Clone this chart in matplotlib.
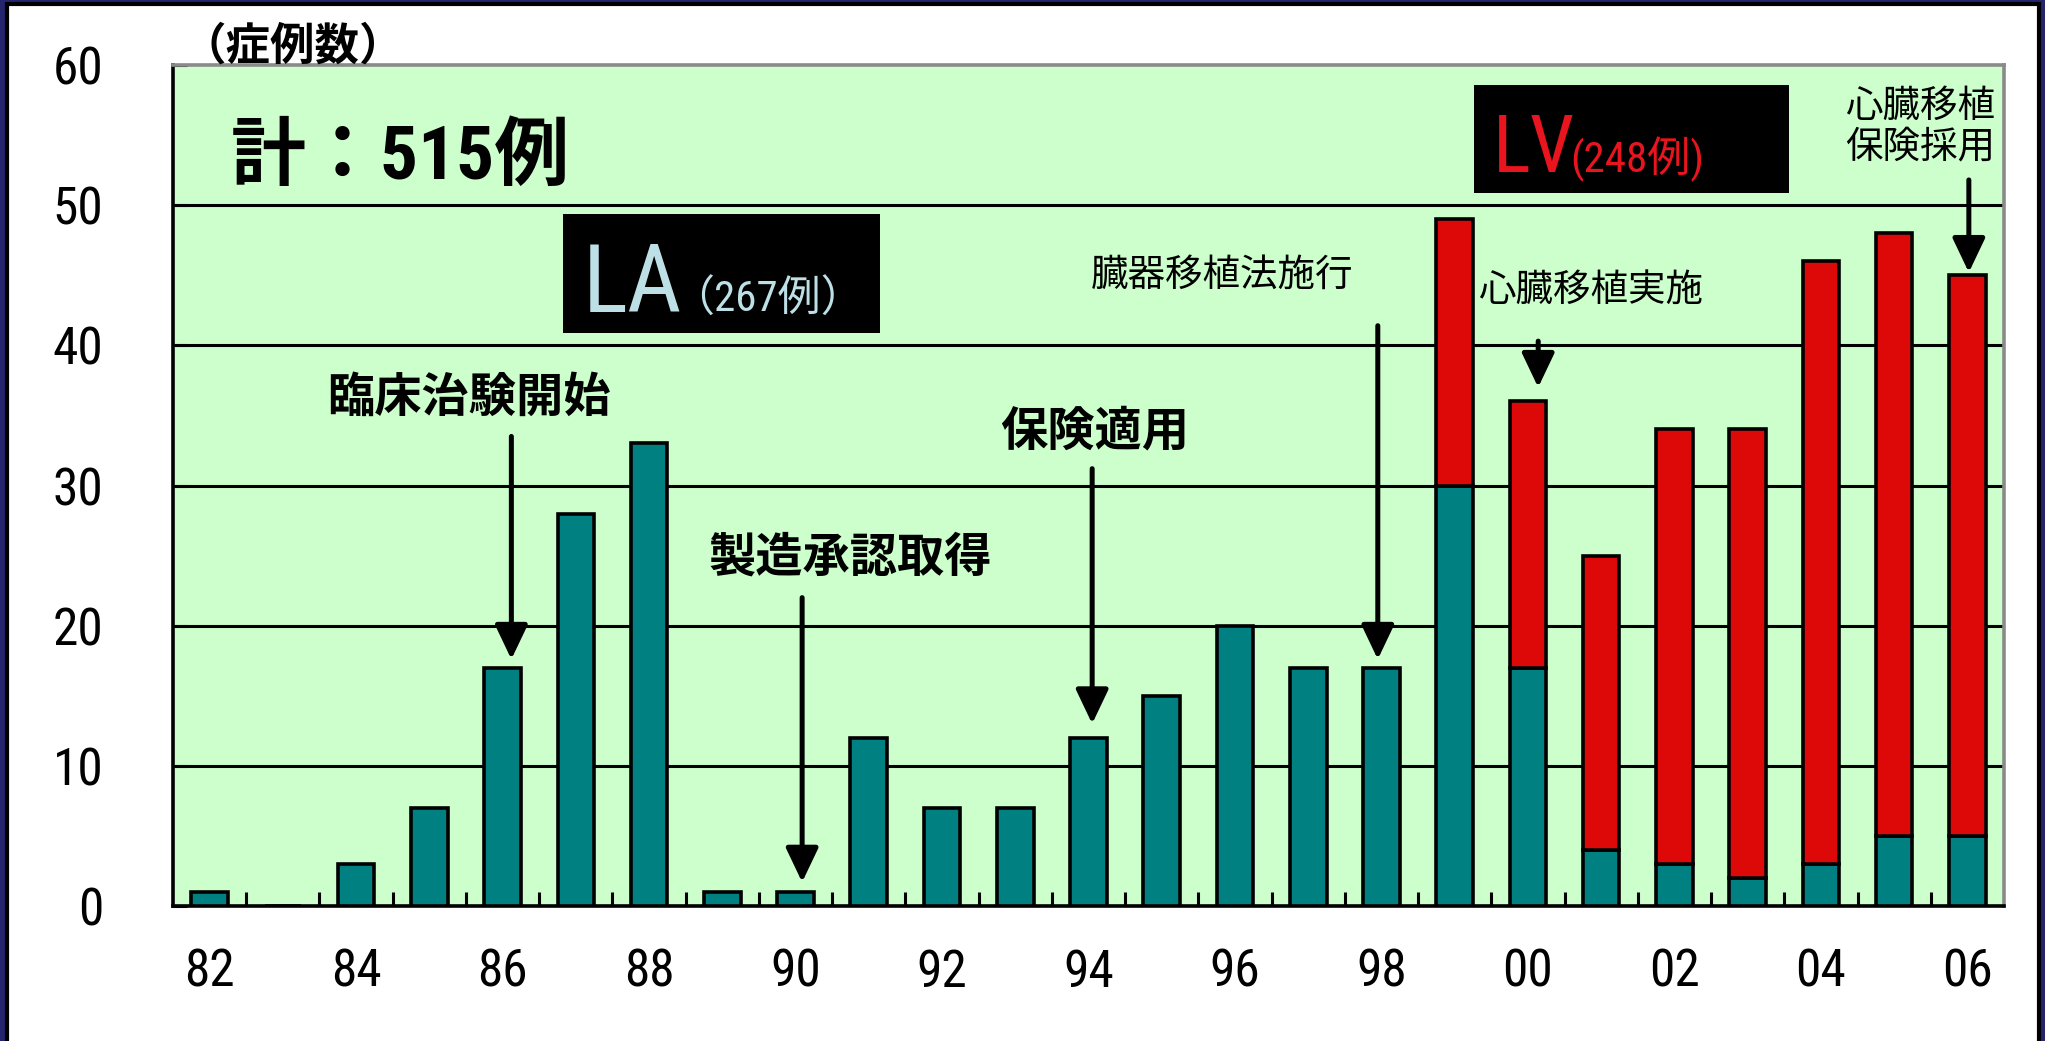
import matplotlib
matplotlib.use("Agg")
import matplotlib.pyplot as plt
from matplotlib import font_manager as fm
from matplotlib.patches import Rectangle

# data
years = ['82', '83', '84', '85', '86', '87', '88', '89', '90', '91', '92', '93',
         '94', '95', '96', '97', '98', '99', '00', '01', '02', '03', '04', '05', '06']
la = [1, 0, 3, 7, 17, 28, 33, 1, 1, 12, 7, 7, 12, 15, 20, 17, 17, 30, 17, 4, 3, 2, 3, 5, 5]
lv = [0, 0, 0, 0, 0, 0, 0, 0, 0, 0, 0, 0, 0, 0, 0, 0, 0, 19, 19, 21, 31, 32, 43, 43, 40]
yticks = [0, 10, 20, 30, 40, 50, 60]

# narrow latin font first, CJK fallback for the kanji
names = {f.name for f in fm.fontManager.ttflist}
narrow = 'DejaVu Sans'
for cand in ['Liberation Sans Narrow', 'Arial Narrow', 'Roboto Condensed', 'Archivo Narrow',
             'PT Sans Narrow', 'Fira Sans Condensed', 'IBM Plex Sans Condensed']:
    if cand in names:
        narrow = cand
        break
plt.rcParams['font.family'] = [narrow, 'Noto Sans CJK JP', 'DejaVu Sans']

teal = '#008080'
red = '#DD0808'

fig = plt.figure(figsize=(20.45, 10.41), dpi=100)
fig.patch.set_facecolor('#25256f')
# white slide panel with black edge
fig.patches.append(Rectangle((7 / 2045, -0.02), 2031.5 / 2045, 1.02 - 4.5 / 1041,
                             transform=fig.transFigure, facecolor='white',
                             edgecolor='black', lw=3, zorder=-10))

ax = fig.add_axes([173 / 2045, 135 / 1041, 1831 / 2045, 841 / 1041])
ax.set_zorder(1)
ax.set_facecolor('#CCFFCC')

x = list(range(len(years)))
ax.bar(x, la, width=0.5, color=teal, edgecolor='black', lw=2.6, zorder=3)
lv_x = [i for i in x if lv[i] > 0]
ax.bar(lv_x, [lv[i] for i in lv_x], bottom=[la[i] for i in lv_x], width=0.5,
       color=red, edgecolor='black', lw=2.6, zorder=3)

ax.set_xlim(-0.5, len(years) - 0.5)
ax.set_ylim(0, 60)
ax.set_yticks(yticks)
ax.set_yticklabels([str(v) for v in yticks])
ax.set_xticks(x)
ax.set_xticklabels([y if int(y) % 2 == 0 else '' for y in years])
ax.set_xticks([i + 0.5 for i in x[:-1]], minor=True)
ax.tick_params(axis='x', which='major', length=0, pad=30, labelsize=37)
ax.tick_params(axis='x', which='minor', direction='in', length=10, width=2.2)
ax.tick_params(axis='y', direction='in', length=10, width=2.2, pad=50, labelsize=37)

ax.grid(axis='y', color='black', lw=2.2)
ax.get_ygridlines()[-1].set_visible(False)
ax.set_axisbelow(True)
for s in ['left', 'bottom']:
    ax.spines[s].set_color('black')
    ax.spines[s].set_linewidth(2.6)
for s in ['top', 'right']:
    ax.spines[s].set_color('#8a8a8a')
    ax.spines[s].set_linewidth(2.6)

# unit label and total
ax.text(1.14, 61.3, '（症例数）', fontsize=32, fontweight='bold', ha='center',
        va='center', clip_on=False)
ax.text(0.29, 53.3, '計：515例', fontsize=54, fontweight='bold', ha='left', va='center')

# LA / LV label boxes
ax.add_patch(Rectangle((4.82, 40.9), 4.33, 8.5, facecolor='black', zorder=4))
ax.text(5.1, 42.4, 'LA', fontsize=68, color='#BDE0E6', ha='left', va='baseline', zorder=5)
ax.text(6.3, 42.4, '（267例）', fontsize=31, color='#BDE0E6', ha='left', va='baseline', zorder=5)
ax.add_patch(Rectangle((17.26, 50.9), 4.3, 7.7, facecolor='black', zorder=4))
ax.text(17.52, 52.35, 'LV', fontsize=57, color='#E8141E', ha='left', va='baseline', zorder=5)
ax.text(18.58, 52.35, '(248例)', fontsize=31, color='#E8141E', ha='left', va='baseline', zorder=5)

# events
ax.text(3.54, 36.2, '臨床治験開始', fontsize=34, fontweight='bold', ha='center', va='center')
ax.text(8.74, 24.8, '製造承認取得', fontsize=34, fontweight='bold', ha='center', va='center')
ax.text(12.09, 33.8, '保険適用', fontsize=34, fontweight='bold', ha='center', va='center')
ax.text(13.82, 45.0, '臓器移植法施行', fontsize=27, ha='center', va='center')
ax.text(18.85, 43.9, '心臓移植実施', fontsize=27, ha='center', va='center')
ax.text(23.35, 55.6, '心臓移植\n保険採用', fontsize=27, ha='center', va='center',
        linespacing=1.15)


def arrow(i, y_start, dx, gap):
    top = la[i] + lv[i]
    ax.annotate('', xy=(i + dx, top + gap), xytext=(i + dx, y_start),
                arrowprops=dict(arrowstyle='-|>,head_length=1.05,head_width=0.5',
                                mutation_scale=20, lw=3.6, color='black',
                                shrinkA=0, shrinkB=0), zorder=6)


arrow(4, 33.5, 0.12, 0.6)
arrow(8, 22.0, 0.09, 0.7)
arrow(12, 31.2, 0.05, 1.0)
arrow(16, 41.4, -0.05, 0.6)
arrow(18, 40.3, 0.14, 1.0)
arrow(24, 51.8, 0.02, 0.2)

fig.savefig('out.png', dpi=100, facecolor=fig.get_facecolor())
